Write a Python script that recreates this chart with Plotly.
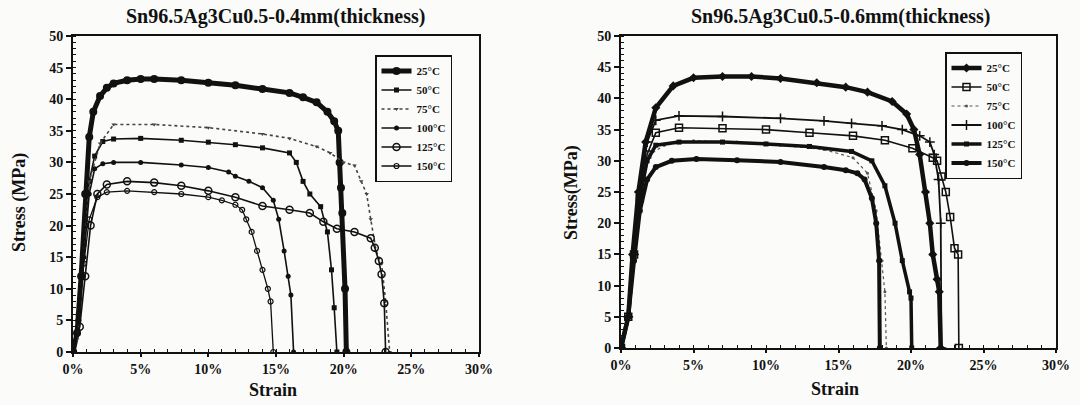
import plotly.graph_objects as go

# ---------------- data: 0.4 mm (left) ----------------
L25_x = [0, 0.3, 0.6, 0.9, 1.2, 1.5, 2.0, 2.5, 3.0, 4.0, 5.0, 6.0, 8.0, 10.0, 12.0, 14.0, 16.0, 17.0, 18.0, 18.8, 19.3, 19.6, 19.7, 19.8, 19.9, 20.1, 20.2]
L25_y = [0, 3, 12, 25, 34, 38, 40.5, 41.8, 42.5, 43, 43.2, 43.2, 43, 42.6, 42.2, 41.6, 41, 40.3, 39.5, 38, 36.5, 35, 30, 26, 22, 10, 0]
L50_x = [0, 0.4, 0.8, 1.2, 1.6, 2.2, 3, 5, 8, 10, 12, 14, 16, 16.5, 17, 17.5, 18.3, 18.8, 19.1, 19.3, 19.5]
L50_y = [0, 6, 17, 27, 31, 33.3, 33.7, 33.8, 33.5, 33.2, 32.8, 32.3, 31.5, 30, 27, 25, 23, 19, 13, 7, 0]
L75_x = [0.3, 0.8, 1.2, 2, 3, 6, 10, 14, 16, 18, 19, 20, 20.8, 21.3, 21.7, 22, 22.4, 22.8, 23.1, 23.4]
L75_y = [2, 15, 27, 33, 36, 36, 35.5, 34.5, 33.8, 32.5, 31.5, 30, 29.5, 27, 25, 21, 16, 14, 8, 0]
L100_x = [0, 0.4, 0.8, 1.2, 1.6, 2.2, 3, 5, 8, 10, 11.5, 12, 13, 14, 14.8, 15.2, 15.6, 15.9, 16.1, 16.3]
L100_y = [0, 5, 15, 25, 29, 29.8, 30, 30, 29.6, 29.2, 28.5, 27.8, 27, 26, 24, 21, 16, 12, 9, 0]
L125_x = [0, 0.5, 0.9, 1.3, 1.8, 2.5, 4, 6, 8, 10, 12, 14, 16, 17.5, 18.5, 19.5, 20.8, 22, 22.3, 22.6, 22.8, 23, 23.1]
L125_y = [0, 4, 12, 20, 25, 26.5, 27, 26.8, 26.3, 25.5, 24.5, 23.1, 22.5, 22, 20.6, 19.5, 19, 18, 16.5, 14.4, 12.3, 7.7, 0]
L150_x = [0, 0.4, 0.8, 1.2, 1.8, 2.5, 4, 6, 8, 10, 11, 12, 12.5, 12.8, 13.2, 13.6, 14.0, 14.4, 14.6, 14.8]
L150_y = [0, 5, 14, 21, 24.5, 25.3, 25.5, 25.3, 25, 24.5, 24, 23.3, 22.5, 21, 19, 16, 13, 10, 8, 0]

# ---------------- data: 0.6 mm (right) ----------------
R25_x = [0, 0.5, 0.8, 1.2, 1.7, 2.4, 3.6, 5, 7, 9, 11, 13.5, 15.5, 17, 18.7, 19.7, 20.2, 20.6, 21, 21.3, 21.5, 21.8, 21.95, 22.05]
R25_y = [0, 5, 15, 25, 33, 38.5, 42, 43.3, 43.5, 43.5, 43.2, 42.5, 41.8, 41, 39.5, 37.5, 35, 31, 25, 20, 15, 11, 9, 0]
R50_x = [0, 0.5, 0.9, 1.3, 1.8, 2.4, 4, 7, 10, 13, 16, 18.2, 20.1, 21.5, 21.8, 22.1, 22.4, 22.7, 23, 23.25, 23.3]
R50_y = [0, 5, 15, 24, 31, 34.5, 35.3, 35.2, 35, 34.5, 34, 33.3, 32, 30.5, 30, 27.5, 25, 21, 16, 15, 0]
R75_x = [0.3, 0.8, 1.3, 2, 3, 5, 8, 11, 14, 16, 17, 17.6, 18, 18.2, 18.3]
R75_y = [3, 14, 25, 31, 32.5, 33.2, 33, 32.5, 31.8, 30.5, 28, 22, 14, 9, 0]
R100_x = [0, 0.5, 0.9, 1.3, 1.8, 2.4, 4, 7, 11, 14, 15.9, 18, 19.4, 20.6, 21.3, 21.6, 21.9, 22.05, 22.1]
R100_y = [0, 5, 15, 25, 33, 36.5, 37.2, 37.1, 36.8, 36.4, 36, 35.6, 35, 34, 33, 31, 27, 20, 0]
R125_x = [0, 0.5, 0.9, 1.3, 1.8, 2.4, 4, 7, 10, 13, 15.9, 17.3, 18.2, 18.9, 19.4, 19.9, 20, 20.05]
R125_y = [0, 5, 15, 24, 30, 32.5, 33, 33, 32.7, 32.3, 31.5, 30, 26, 20, 14, 9, 8, 0]
R150_x = [0, 0.5, 0.9, 1.3, 1.8, 2.4, 3.5, 5.2, 8, 11, 14, 15.5, 16.3, 16.8, 17.3, 17.6, 17.8, 17.85]
R150_y = [0, 5, 14, 22, 27, 29, 30, 30.3, 30.1, 29.8, 29, 28.5, 28, 27, 24, 20, 14, 0]

TEMPS = ["25°C", "50°C", "75°C", "100°C", "125°C", "150°C"]
X_TICKS = [0, 5, 10, 15, 20, 25, 30]
Y_TICKS = [0, 5, 10, 15, 20, 25, 30, 35, 40, 45, 50]

TITLE_L = "Sn96.5Ag3Cu0.5-0.4mm(thickness)"
TITLE_R = "Sn96.5Ag3Cu0.5-0.6mm(thickness)"
XTITLE = "Strain"
YTITLE_L = "Stress (MPa)"
YTITLE_R = "Stress(MPa)"

SERIF = "Liberation Serif, Times New Roman, serif"
INK = "#111111"
BG = "#fbfbf9"

fig = go.Figure()

left_styles = [
    dict(line=dict(color=INK, width=5), marker=dict(symbol="circle", size=8, color=INK)),
    dict(line=dict(color=INK, width=1.6), marker=dict(symbol="square", size=5, color=INK)),
    dict(line=dict(color="#444444", width=1.6, dash="dot"), marker=dict(symbol="triangle-down", size=4, color="#444444")),
    dict(line=dict(color=INK, width=1.6), marker=dict(symbol="circle", size=5, color=INK)),
    dict(line=dict(color=INK, width=1.6), marker=dict(symbol="circle-open", size=7, color=INK, line=dict(width=1.5))),
    dict(line=dict(color=INK, width=1.3), marker=dict(symbol="circle-open", size=5, color=INK, line=dict(width=1.2))),
]
left_data = [(L25_x, L25_y), (L50_x, L50_y), (L75_x, L75_y), (L100_x, L100_y), (L125_x, L125_y), (L150_x, L150_y)]
for (xs, ys), st, name in zip(left_data, left_styles, TEMPS):
    fig.add_trace(go.Scatter(x=xs, y=ys, mode="lines+markers", name=name, xaxis="x", yaxis="y",
                             legend="legend", **st))

right_styles = [
    dict(line=dict(color=INK, width=4.5), marker=dict(symbol="diamond", size=7, color=INK)),
    dict(line=dict(color=INK, width=1.6), marker=dict(symbol="square-open", size=7, color=INK, line=dict(width=1.5))),
    dict(line=dict(color="#555555", width=1.2, dash="dot"), marker=dict(symbol="circle", size=3, color="#555555")),
    dict(line=dict(color=INK, width=1.8), marker=dict(symbol="cross-thin", size=7, color=INK, line=dict(width=1.5, color=INK))),
    dict(line=dict(color=INK, width=3.5), marker=dict(symbol="square", size=5, color=INK)),
    dict(line=dict(color=INK, width=4), marker=dict(symbol="circle", size=6, color=INK)),
]
right_data = [(R25_x, R25_y), (R50_x, R50_y), (R75_x, R75_y), (R100_x, R100_y), (R125_x, R125_y), (R150_x, R150_y)]
for (xs, ys), st, name in zip(right_data, right_styles, TEMPS):
    fig.add_trace(go.Scatter(x=xs, y=ys, mode="lines+markers", name=name, xaxis="x2", yaxis="y2",
                             legend="legend2", **st))

W, H = 1080, 405
def px_x(p):
    return p / W
def px_y(p):
    return 1 - p / H

TICKFONT = dict(family=SERIF, size=14, color=INK, weight="bold")

axis_common = dict(
    showline=True, linecolor=INK, linewidth=2, mirror=True,
    ticks="outside", tickwidth=1.5, tickcolor=INK,
    showgrid=False, zeroline=False, automargin=False,
    tickfont=TICKFONT,
)
xaxis_common = dict(axis_common, range=[0, 30], tickvals=X_TICKS, ticktext=[f"{v}%" for v in X_TICKS],
                    ticklen=3,
                    minor=dict(dtick=1, ticks="inside", ticklen=3, tickcolor=INK, tickwidth=1))
yaxis_common = dict(axis_common, range=[0, 50], tickvals=Y_TICKS, ticklen=5,
                    minor=dict(dtick=1, ticks="inside", ticklen=3, tickcolor=INK, tickwidth=1))

legend_common = dict(xanchor="left", yanchor="top", bgcolor=BG, bordercolor=INK, borderwidth=1.5,
                     font=dict(family=SERIF, size=11, color=INK, weight="bold"),
                     itemwidth=30, tracegroupgap=0)

TITLEFONT = dict(family=SERIF, size=20, color=INK, weight="bold")
XTFONT = dict(family=SERIF, size=18, color=INK, weight="bold")
YTFONT = dict(family=SERIF, size=18, color=INK, weight="bold")

def ann(text, x, y, font, angle=0):
    return dict(text=text, x=px_x(x), y=px_y(y), xref="paper", yref="paper", showarrow=False,
                xanchor="center", yanchor="middle", font=font, textangle=angle)

fig.update_layout(
    width=W, height=H,
    margin=dict(l=0, r=0, t=0, b=0, autoexpand=False),
    paper_bgcolor=BG, plot_bgcolor=BG,
    xaxis=dict(xaxis_common, domain=[px_x(73), px_x(479)], anchor="y"),
    yaxis=dict(yaxis_common, domain=[px_y(352), px_y(36)], anchor="x"),
    xaxis2=dict(xaxis_common, domain=[px_x(621), px_x(1056)], anchor="y2"),
    yaxis2=dict(yaxis_common, domain=[px_y(348), px_y(36)], anchor="x2"),
    legend=dict(legend_common, x=px_x(375), y=px_y(55)),
    legend2=dict(legend_common, x=px_x(945), y=px_y(52)),
    showlegend=True,
    annotations=[
        ann(TITLE_L, 275, 16, TITLEFONT),
        ann(TITLE_R, 840, 16, TITLEFONT),
        ann(XTITLE, 273, 390, XTFONT),
        ann(XTITLE, 835, 389, XTFONT),
        ann(YTITLE_L, 19, 203, YTFONT, -90),
        ann(YTITLE_R, 571, 193, YTFONT, -90),
    ],
)

fig.write_html("out.html")
